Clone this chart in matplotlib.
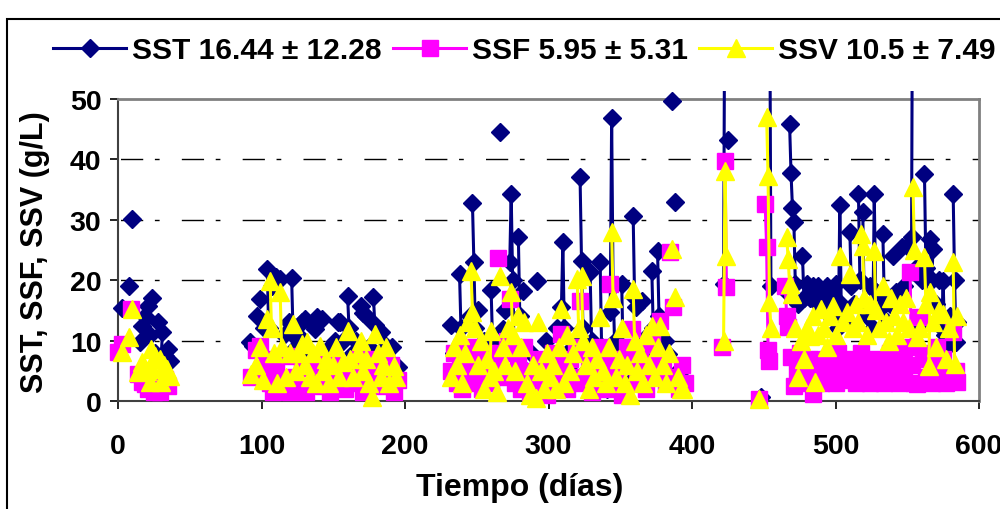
import numpy as np
import matplotlib.pyplot as plt
from matplotlib.patches import Rectangle

nan = np.nan

# Datos (dia, valor). Los dias no consecutivos quedan sin linea.
# ---- SST (diamantes azules) ----
sst_dias = [3, 8, 10, 15, 17, 19, 21, 22, 24, 26,
            28, 30, 31, 33, 35, 36,
            92, 94, 97, 99, 102, 104, 105, 107, 110, 113,
            116, 119, 121, 122, 124, 126, 128, 130, 133, 135,
            137, 139, 142, 145, 148, 151, 153, 155, 157, 160,
            161, 164, 166, 169, 171, 173, 175, 178, 179, 181,
            183, 185, 187, 189, 191, 193, 195,
            232, 234, 236, 238, 239, 241, 243, 245, 247, 248,
            249, 251, 253, 255, 257, 260, 261, 263, 266, 268,
            270, 273, 274, 275, 276, 279, 280, 282, 284, 286,
            288, 290, 292, 294, 296, 298, 300, 302, 304, 306,
            309, 310, 311, 313, 315, 317, 319, 322, 323, 324,
            326, 329, 330, 332, 334, 336, 337, 339, 341, 343,
            344, 345, 346, 348, 351, 352, 354, 356, 359, 360,
            361, 363, 365, 367, 369, 372, 373, 376, 377, 379,
            381, 383, 386, 388, 390, 392, 394,
            422, 423, 425,
            448, 454, 455,
            466, 468, 469, 470, 471, 472, 474, 477, 478, 480,
            482, 484, 486, 488, 490, 492, 494, 496, 498, 500,
            502, 503, 504, 506, 508, 510, 511, 513, 516, 517,
            519, 520, 522, 524, 526, 527, 528, 530, 533, 534,
            536, 538, 540, 542, 544, 546, 548, 550, 553, 554,
            556, 558, 560, 562, 563, 564, 566, 567, 568, 570,
            572, 574, 575, 576, 578, 580, 582, 583, 584, 585]
sst_val = [15.4, 19, 30.1, 9.8, 12.4, 14, 15.7, 11, 17, 8,
           13, 7, 11.4, 7.5, 8.6, 6.6,
           9.8, 9.1, 14.1, 16.9, 12, 21.9, 12, 19, 20.5, 20.2,
           11, 13, 20.4, 11, 9, 10.8, 13, 13.6, 8, 12.8,
           11.9, 13.9, 13.6, 8, 9, 10, 13.1, 13, 10, 17.4,
           12, 8, 10, 15.7, 14.5, 14.1, 9, 17.2, 12.5, 6,
           11.4, 7, 9.1, 5, 9, 5.8, 5.6,
           12.6, 8, 5, 21, 12, 9, 4, 14, 32.8, 23,
           12, 15, 3, 10, 6, 18.4, 10, 4, 44.5, 11.9,
           15, 23, 34.3, 20, 9, 27.2, 14, 18.2, 5, 3,
           8, 2, 19.9, 6, 3, 10, 5, 8, 4, 12,
           15.6, 26.3, 12, 8, 5, 3, 10, 37, 23.2, 12,
           5, 21.3, 10, 6, 3, 23, 9, 5, 2, 14.7,
           46.8, 19, 10, 8, 19.4, 8, 6, 3, 30.6, 17,
           15.6, 9, 16.6, 7, 11, 21.5, 12, 24.8, 14, 6,
           10, 7.8, 49.7, 32.9, 5, 3, 3.6,
           19.4, 80, 43.2,
           0.7, 80, 19,
           18, 45.9, 37.7, 32, 29.6, 19.4, 16, 24, 17, 19.4,
           17, 19, 16.5, 19, 17.5, 16, 19, 14, 17, 19.4,
           12, 32.5, 16, 14, 13, 28, 19, 16, 34.2, 20,
           31.3, 16, 14, 19, 12, 34.2, 18, 15, 27.6, 17,
           13, 16, 24, 18, 16, 25.5, 19, 25.7, 27.1, 95,
           22, 12, 20, 37.6, 22, 13, 26.8, 20, 25.2, 16,
           20, 12, 19.9, 11, 9, 14, 34.2, 20, 9.8, 13]

# ---- SSF (cuadrados magenta) ----
ssf_dias = [0, 3, 9, 14, 17, 19, 21, 23, 25, 27,
            29, 31, 33, 35,
            93, 96, 99, 102, 104, 106, 108, 110, 113, 116,
            118, 120, 123, 126, 128, 131, 134, 137, 140, 143,
            146, 148, 151, 154, 156, 158, 161, 164, 167, 169,
            171, 174, 177, 179, 181, 184, 187, 190, 192, 195,
            232, 234, 236, 238, 240, 242, 244, 246, 248, 250,
            252, 254, 256, 258, 260, 262, 265, 267, 269, 271,
            273, 275, 277, 279, 281, 283, 285, 287, 289, 291,
            293, 295, 297, 299, 301, 303, 305, 307, 309, 311,
            313, 315, 317, 319, 322, 324, 326, 328, 330, 332,
            334, 336, 338, 340, 343, 345, 347, 349, 351, 353,
            355, 358, 360, 362, 364, 366, 368, 370, 372, 374,
            376, 378, 380, 382, 385, 387, 389, 391, 393, 395,
            421, 423, 424,
            447, 451, 452, 453, 454,
            465, 466, 467, 469, 471, 473, 475, 477, 479, 482,
            484, 486, 488, 490, 492, 494, 496, 498, 500, 502,
            504, 506, 508, 510, 512, 514, 516, 518, 520, 522,
            524, 526, 528, 530, 532, 534, 536, 538, 540, 542,
            544, 546, 548, 550, 552, 553, 555, 557, 559, 561,
            563, 565, 567, 569, 571, 573, 575, 577, 579, 582,
            584, 585]
ssf_val = [8.1, 9.5, 15.2, 4.5, 3.2, 2.8, 2, 3.5, 1.5, 2.3,
           1.5, 3, 3.6, 2.5,
           4, 8.5, 9.1, 5, 7, 3, 1.5, 5, 3, 2,
           7.5, 1.5, 4, 2, 6, 1.5, 5.5, 3, 7, 2.5,
           4, 1.5, 6, 3, 5.8, 2, 5, 3, 7, 4,
           1.5, 6, 3, 7, 5.8, 2.5, 4, 6, 1.5, 3.5,
           5, 8, 3, 6, 2, 7, 4, 9, 6, 3,
           7, 2, 5, 8, 3, 6, 23.7, 8, 4, 10,
           16.9, 8, 3, 6, 2, 9, 4, 1.5, 5, 3,
           7, 2, 6, 1, 4, 8, 3, 6, 11.1, 5,
           2, 7, 4, 9, 16.6, 3, 8, 5, 1.5, 7,
           4, 9, 6, 2, 19.4, 5, 3, 7, 1, 6,
           9, 11.9, 7, 3, 8, 5, 2, 6, 9.4, 4,
           7, 13.2, 5, 3, 24.7, 15.6, 4, 2, 6, 3,
           9, 39.7, 18.9,
           0.3, 32.6, 25.5, 8.5, 6.6,
           19, 14, 12.3, 7.3, 2.5, 5, 8, 3, 5, 7,
           1.2, 4, 6, 3, 5, 7, 4, 6, 3, 8,
           5, 3.5, 6, 4, 7, 3, 5, 8, 4, 6,
           3, 5, 7, 4, 6, 3, 5, 8, 4, 6,
           3, 7, 5, 9, 21.3, 6, 3, 2.8, 13.9, 8,
           4, 7, 3, 6, 9, 4, 7, 3, 5, 11.4,
           5, 3.1]

# ---- SSV (triangulos amarillos) ----
ssv_dias = [3, 8, 10, 14, 17, 20, 22, 23, 24, 26,
            29, 30, 32, 34, 36,
            93, 96, 99, 101, 104, 106, 107, 109, 111, 113,
            114, 117, 120, 122, 124, 126, 128, 130, 132, 134,
            136, 138, 141, 143, 145, 147, 150, 152, 154, 157,
            160, 162, 164, 167, 169, 171, 173, 175, 177, 179,
            181, 183, 185, 187, 189, 192, 194,
            232, 234, 236, 238, 240, 242, 244, 246, 247, 249,
            251, 253, 255, 257, 259, 260, 262, 264, 266, 268,
            270, 272, 274, 275, 277, 279, 281, 283, 285, 287,
            289, 291, 293, 295, 297, 299, 301, 303, 305, 307,
            309, 311, 313, 315, 317, 320, 321, 323, 324, 326,
            328, 330, 332, 334, 336, 338, 340, 342, 344, 345,
            347, 349, 351, 353, 355, 357, 359, 360, 362, 364,
            366, 368, 370, 372, 374, 376, 378, 380, 382, 384,
            386, 388, 390, 392, 394,
            422, 423, 424,
            447, 452, 453, 454, 455,
            466, 467, 468, 470, 472, 474, 476, 478, 480, 482,
            484, 486, 488, 490, 492, 494, 496, 498, 500, 503,
            505, 508, 510, 512, 514, 516, 518, 519, 520, 522,
            524, 527, 528, 530, 533, 535, 537, 539, 541, 543,
            545, 547, 549, 551, 554, 555, 557, 559, 562, 563,
            565, 566, 568, 570, 572, 575, 577, 579, 582, 583,
            585]
ssv_val = [8.1, 10.6, 15.2, 4.8, 6.5, 5, 3.1, 8.6, 5.3, 7.5,
           7, 3.1, 6, 5.3, 4.1,
           4.5, 6, 9, 3.5, 13.6, 19.9, 12, 8, 3, 18,
           9, 4, 8, 12.7, 5, 8, 9.4, 6, 9.8, 4,
           8, 3, 9.1, 5, 7, 3, 6, 9, 4, 6.5,
           11.6, 7, 4, 8, 10, 5, 7, 3, 0.7, 11.1,
           8, 4, 6, 9, 3, 5.8, 4,
           4, 9, 6, 11, 3, 8, 13, 21.5, 14.7, 12,
           6, 10, 2, 7, 4, 11.6, 5, 1.5, 20.7, 9,
           6, 12, 18, 11, 5, 14, 9, 13, 3, 1,
           6, 0.5, 13, 5, 2, 8, 4, 6, 2, 9,
           15.2, 3, 11, 5, 8, 20.2, 12, 20.7, 10, 6,
           2, 9, 4, 7, 13.9, 5, 3, 9, 28, 17,
           4, 7, 12, 3, 6, 1, 18.5, 10, 5, 8,
           3, 11, 6, 12.4, 4, 9, 12.4, 6, 3, 8,
           25.2, 17.2, 4, 2, 2,
           9.9, 38, 24,
           0.3, 47, 37.3, 16.4, 12,
           27.2, 23.5, 19.4, 17.7, 12, 4, 10, 7, 12, 10.8,
           14, 3.1, 11, 15.2, 12, 9, 14, 15.7, 11, 24,
           13, 14.7, 21, 12, 16, 13, 27.7, 25.7, 17, 11,
           16, 24.8, 15, 12, 19, 13, 10, 17, 14, 11,
           16, 13, 17, 12, 35.4, 25, 10.6, 12, 23.8, 16,
           5.8, 18, 13, 9, 15, 14.4, 7, 12, 23, 6.1,
           14]

etiquetas = ["SST 16.44 \u00b1 12.28", "SSF 5.95 \u00b1 5.31", "SSV 10.5 \u00b1 7.49"]


def con_huecos(dias, vals):
    # como Excel: celdas vacias entre dias no consecutivos cortan la linea
    x, y = [], []
    for i in range(len(dias)):
        if i > 0 and dias[i] - dias[i - 1] > 1:
            x.append(nan)
            y.append(nan)
        x.append(dias[i])
        y.append(vals[i])
    return x, y


plt.rcParams['font.family'] = ['Liberation Sans', 'DejaVu Sans']
plt.rcParams['font.weight'] = 'bold'
plt.rcParams['axes.labelweight'] = 'bold'

fig = plt.figure(figsize=(10, 5.1), dpi=100)
ax = fig.add_axes([0.118, 0.2118, 0.861, 0.5922])

# recorte algo mayor que el area del grafico (como en Excel)
recorte = Rectangle((-0.02, -0.1), 1.04, 1.1265, transform=ax.transAxes,
                    fill=False, visible=False)
ax.add_patch(recorte)

series = [(sst_dias, sst_val, "#000080", "D", 9),
          (ssf_dias, ssf_val, "#FF00FF", "s", 11),
          (ssv_dias, ssv_val, "#FFFF00", "^", 13)]
for i, (d, v, c, m, ms) in enumerate(series):
    x, y = con_huecos(d, v)
    ln, = ax.plot(x, y, "-", color=c, lw=2.2, marker=m, ms=ms, mec=c, mfc=c,
                  label=etiquetas[i], zorder=3 + i)
    ln.set_clip_path(recorte)

ax.set_xlim(0, 600)
ax.set_ylim(0, 50)
ax.set_xticks(range(0, 601, 100))
ax.set_yticks(range(0, 51, 10))
ax.tick_params(labelsize=20.5, length=6, width=1.2, pad=6)
ax.tick_params(axis='x', pad=17)

for yy in [10, 20, 30, 40]:
    ax.axhline(yy, color="black", lw=1, linestyle=(42, (16, 8.4, 3.4, 16)), zorder=1)

for s in ["top", "right"]:
    ax.spines[s].set_color("#808080")
    ax.spines[s].set_linewidth(2)
for s in ["left", "bottom"]:
    ax.spines[s].set_color("#404040")
    ax.spines[s].set_linewidth(1.5)

ax.set_xlabel("Tiempo (días)", fontsize=23)
ax.xaxis.set_label_coords(0.467, -0.235)
ax.set_ylabel("SST, SSF, SSV (g/L)", fontsize=22)
ax.yaxis.set_label_coords(-0.079, 0.497)

fig.legend(loc="center", bbox_to_anchor=(0.5245, 0.9), ncol=3, frameon=False,
           fontsize=21.5, handlelength=2.45, handletextpad=0.2, columnspacing=0.37)

fig.patches.append(Rectangle((0.007, -0.05), 1.2, 1.011, transform=fig.transFigure,
                             fill=False, lw=1.5, ec="black"))

plt.savefig("out.png", dpi=100)
